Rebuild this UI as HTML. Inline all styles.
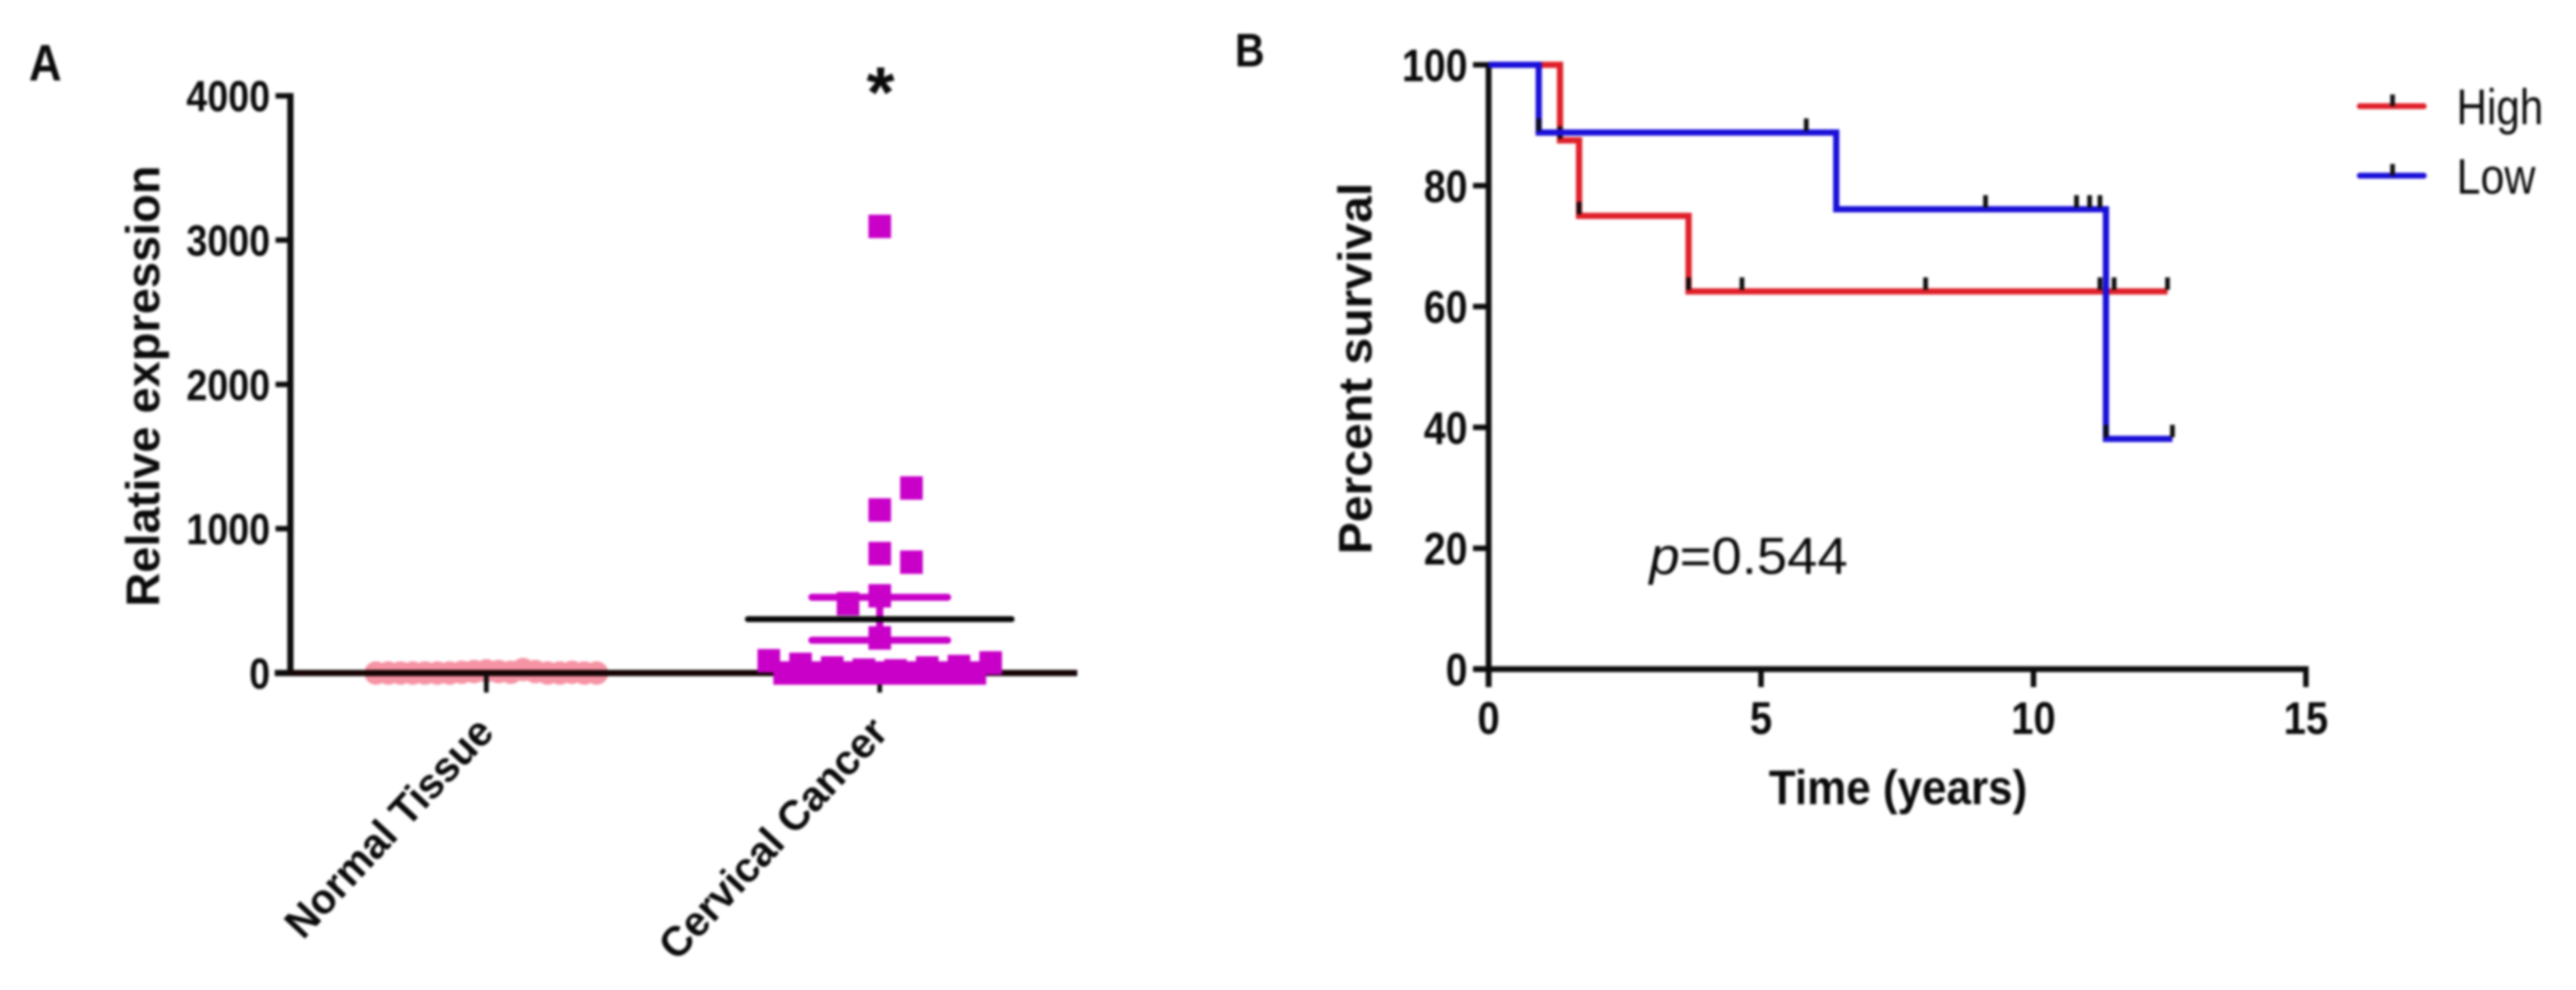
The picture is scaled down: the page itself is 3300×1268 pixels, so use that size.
<!DOCTYPE html>
<html lang="en">
<head>
<meta charset="utf-8">
<title>Relative expression and survival</title>
<style>
html,body{margin:0;padding:0;background:#fff;width:3300px;height:1268px;overflow:hidden}
svg{display:block;filter:blur(1.5px)}
text{font-family:"Liberation Sans",Arial,sans-serif;fill:#0a0a0a}
.b{font-weight:bold}
</style>
</head>
<body>
<svg id="fig" xmlns="http://www.w3.org/2000/svg" width="3300" height="1268" viewBox="0 0 3300 1268">
  <rect x="0" y="0" width="3300" height="1268" fill="#fff"/>
  <g id="panelA">
    <text class="b" x="37" y="103" font-size="66" textLength="42" lengthAdjust="spacingAndGlyphs">A</text>
    <text class="b" font-size="60" text-anchor="middle" transform="translate(204,494.5) rotate(-90)" textLength="565" lengthAdjust="spacingAndGlyphs">Relative expression</text>
    <text class="b" x="1128" y="150" font-size="92" text-anchor="middle">*</text>
  </g>
  <g id="panelB">
    <text class="b" x="1582" y="85" font-size="60" textLength="38" lengthAdjust="spacingAndGlyphs">B</text>
    <text class="b" font-size="60" text-anchor="middle" transform="translate(1757,472) rotate(-90)" textLength="476" lengthAdjust="spacingAndGlyphs">Percent survival</text>
    <text class="b" x="2266" y="1030" font-size="62" textLength="331" lengthAdjust="spacingAndGlyphs">Time (years)</text>
    <text x="2113" y="735" font-size="67" textLength="254" lengthAdjust="spacingAndGlyphs"><tspan font-style="italic">p</tspan>=0.544</text>
    <g>
      <line x1="3023" x2="3105" y1="136" y2="136" stroke="#e0202a" stroke-width="7.5" stroke-linecap="round"/>
      <line x1="3065" x2="3065" y1="121" y2="136" stroke="#111" stroke-width="6"/>
      <text x="3147" y="159" font-size="64" textLength="111" lengthAdjust="spacingAndGlyphs">High</text>
      <line x1="3023" x2="3105" y1="225" y2="225" stroke="#1a10d8" stroke-width="7.5" stroke-linecap="round"/>
      <line x1="3065" x2="3065" y1="210" y2="225" stroke="#111" stroke-width="6"/>
      <text x="3147" y="248" font-size="64" textLength="101" lengthAdjust="spacingAndGlyphs">Low</text>
    </g>
  </g>
</svg>
<script>
// ---- Panel A data ----
const groupLabels = ['Normal Tissue', 'Cervical Cancer'];
const expressionTicks = [0, 1000, 2000, 3000, 4000];
const normalSlots = [-9,-8,-7,-6,-5,-4,-3,-2,-1,0,1,2,3,4,5,6,7,8,9];
const normalValues = [0,0,0,0,0,0,0,5,10,15,10,5,24,10,0,0,5,0,0];
const cervicalSlots = [0,1,0,0,1,0,-1,0,-3.5,-3,-2.5,-2,-1.5,-1,-0.5,0,0.5,1,1.5,2,2.5,3,3.5,-2.5,-1.5,-0.5,0.5,1.5,2.5];
const cervicalValues = [3095,1282,1130,828,768,535,480,243,85,0,60,0,35,0,20,0,15,0,35,0,45,0,70,0,0,0,0,0,0];
const cervicalMean = [373];
const cervicalErrorBars = [227, 525];

// ---- Panel B data ----
const timeTicks = [0, 5, 10, 15];
const survivalTicks = [0, 20, 40, 60, 80, 100];
const highTimes = [0, 1.31, 1.66, 3.67, 12.46];
const highSurvival = [100, 87.5, 75, 62.5, 62.5];
const highCensorTimes = [1.31, 1.66, 3.67, 4.65, 8.02, 11.22, 11.48, 12.46];
const lowTimes = [0, 0.92, 6.38, 11.33, 12.55];
const lowSurvival = [100, 88.8, 76.1, 38.1, 38.1];
const lowCensorTimes = [0.92, 5.83, 9.12, 10.79, 11.03, 11.22, 11.33, 12.55];

// ---- Axis functions ----
const NS = 'http://www.w3.org/2000/svg';
const yA = v => 862 - v * 0.18482;
const catX = i => 623 + i * 504;
const normalSwarm = s => 15.7 * s;
const cervicalSwarm = s => 40.6 * s;
const xB = t => 1907 + t * 69.8;
const yB = s => 857 - s * 7.74;

const panelA = document.getElementById('panelA');
const panelB = document.getElementById('panelB');

function mk(parent, tag, attrs, txt) {
  const el = document.createElementNS(NS, tag);
  for (const k in attrs) el.setAttribute(k, attrs[k]);
  if (txt !== undefined) el.textContent = txt;
  parent.appendChild(el);
  return el;
}
const BLACK = '#0c0c0c';
const MAGENTA = '#c800c8';

// Normal tissue points (under axis)
normalValues.forEach((v, i) => {
  const el = mk(panelA, 'circle', {cx: catX(0) + normalSwarm(normalSlots[i]), cy: yA(v), r: 15, fill: '#f693a4'});
  
  
});

// Panel A axes
{
  const el = mk(panelA, 'line', {x1: 372, x2: 372, y1: yA(4000) - 3.5, y2: yA(0), stroke: BLACK, 'stroke-width': 8});
  
  
}
{
  const el = mk(panelA, 'line', {x1: 352, x2: 1380, y1: yA(0), y2: yA(0), stroke: '#150404', 'stroke-width': 8});
  
  
}
expressionTicks.forEach(v => {
  const tick = mk(panelA, 'line', {x1: 353, x2: 372, y1: yA(v), y2: yA(v), stroke: BLACK, 'stroke-width': 7});
  
  
  const s = String(v);
  const lab = mk(panelA, 'text', {x: 346, y: yA(v) + 20, 'font-size': 56, 'font-weight': 'bold', 'text-anchor': 'end', textLength: s.length * 26.8, lengthAdjust: 'spacingAndGlyphs'}, s);
  
  
});
groupLabels.forEach((name, i) => {
  const tick = mk(panelA, 'line', {x1: catX(i), x2: catX(i), y1: yA(0), y2: 887, stroke: BLACK, 'stroke-width': 6});
  
  
  const lab = mk(panelA, 'text', {'font-size': 54, 'font-weight': 'bold', 'text-anchor': 'end',
    transform: 'translate(' + (catX(i) + (i === 0 ? 12 : 13)) + ',940) rotate(-47)', textLength: i === 0 ? 362 : 400, lengthAdjust: 'spacingAndGlyphs'}, name);
  
  
});

// Cervical cancer points
cervicalValues.forEach((v, i) => {
  const cx = catX(1) + cervicalSwarm(cervicalSlots[i]);
  const el = mk(panelA, 'rect', {x: cx - 14.5, y: yA(v) - 15, width: 29, height: 30, fill: MAGENTA});
  
  
});
cervicalErrorBars.forEach(v => {
  const el = mk(panelA, 'line', {x1: 1040, x2: 1214, y1: yA(v), y2: yA(v), stroke: MAGENTA, 'stroke-width': 9, 'stroke-linecap': 'round'});
  
  
});
{
  const el = mk(panelA, 'line', {x1: catX(1), x2: catX(1), y1: yA(cervicalErrorBars[0]), y2: yA(cervicalErrorBars[1]), stroke: MAGENTA, 'stroke-width': 9});
  
  
}
{
  const el = mk(panelA, 'line', {x1: 958, x2: 1296, y1: yA(cervicalMean[0]), y2: yA(cervicalMean[0]), stroke: '#050505', 'stroke-width': 7.5, 'stroke-linecap': 'round'});
  
  
}

// Panel B axes
{
  const el = mk(panelB, 'line', {x1: 1907, x2: 1907, y1: yB(100) - 3.5, y2: 880, stroke: BLACK, 'stroke-width': 7.5});
  
  
}
{
  const el = mk(panelB, 'line', {x1: 1888, x2: xB(15) + 3.5, y1: yB(0), y2: yB(0), stroke: BLACK, 'stroke-width': 7.5});
  
  
}
survivalTicks.forEach(v => {
  const tick = mk(panelB, 'line', {x1: 1887, x2: 1907, y1: yB(v), y2: yB(v), stroke: BLACK, 'stroke-width': 7});
  
  
  const s = String(v);
  const lab = mk(panelB, 'text', {x: 1880, y: yB(v) + 21, 'font-size': 58, 'font-weight': 'bold', 'text-anchor': 'end', textLength: s.length * 28, lengthAdjust: 'spacingAndGlyphs'}, s);
  
  
});
timeTicks.forEach(v => {
  const tick = mk(panelB, 'line', {x1: xB(v), x2: xB(v), y1: yB(0), y2: 880, stroke: BLACK, 'stroke-width': 7});
  
  
  const s = String(v);
  const lab = mk(panelB, 'text', {x: xB(v), y: 940, 'font-size': 58, 'font-weight': 'bold', 'text-anchor': 'middle', textLength: s.length * 28.5, lengthAdjust: 'spacingAndGlyphs'}, s);
  
  
});

// Step curves
function stepPath(times, surv) {
  let d = 'M' + xB(times[0]) + ' ' + yB(surv[0]);
  for (let i = 1; i < times.length; i++) {
    d += 'H' + xB(times[i]) + 'V' + yB(surv[i]);
  }
  return d;
}
function survivalAt(times, surv, t) {
  let s = surv[0];
  for (let i = 0; i < times.length; i++) if (times[i] <= t) s = surv[i];
  return s;
}
{
  const el = mk(panelB, 'path', {d: stepPath(highTimes, highSurvival), fill: 'none', stroke: '#e0202a', 'stroke-width': 8});
  
  
}
highCensorTimes.forEach(t => {
  const y = yB(survivalAt(highTimes, highSurvival, t));
  const el = mk(panelB, 'line', {x1: xB(t), x2: xB(t), y1: y - 18, y2: y - 2, stroke: BLACK, 'stroke-width': 6});
  
  
});
{
  const el = mk(panelB, 'path', {d: stepPath(lowTimes, lowSurvival), fill: 'none', stroke: '#1a10d8', 'stroke-width': 8});
  
  
}
lowCensorTimes.forEach(t => {
  const y = yB(survivalAt(lowTimes, lowSurvival, t));
  const el = mk(panelB, 'line', {x1: xB(t), x2: xB(t), y1: y - 18, y2: y - 2, stroke: BLACK, 'stroke-width': 6});
  
  
});
</script>
</body>
</html>
